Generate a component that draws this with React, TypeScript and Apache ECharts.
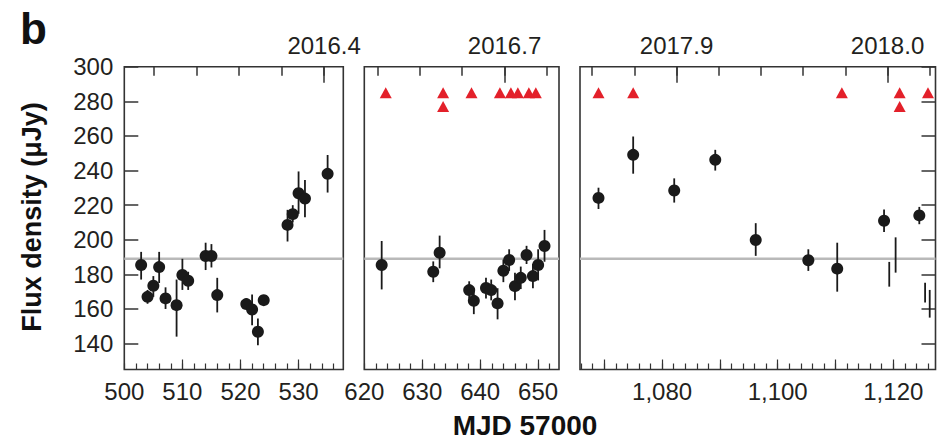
import React, { useEffect, useRef } from "react";
import * as echarts from "echarts";

const FONT = '"Liberation Sans", Arial, Helvetica, sans-serif';
const TEXT = "#231f20";
const AXIS = "#333333";
const DOT = "#1a1a1a";
const RED = "#e3202a";

// y scale
const yMin = 125;
const yMax = 300;
const yTickValues = [140, 160, 180, 200, 220, 240, 260, 280, 300];
const refLevel = 189;

// ---------- panel 1 (MJD 57500 - 57538) ----------
const p1Range = [500, 537.7];
const p1BottomLabels = [500, 510, 520, 530];
const p1BottomMajor = [510, 520, 530];
const p1TopYears = [2016.32, 2016.34, 2016.36, 2016.38, 2016.4];
const p1TopLabels = [2016.4];
const p1X = [502.9, 504.0, 505.0, 506.0, 507.1, 509.0, 510.0, 511.0, 514.0, 515.0, 516.0, 521.0, 522.0, 523.0, 524.0, 528.1, 529.0, 530.0, 531.1, 535.0];
const p1Y = [185.4, 167.0, 173.4, 184.2, 166.1, 162.2, 179.6, 176.3, 190.6, 190.6, 168.0, 162.8, 159.7, 146.8, 165.1, 208.6, 214.8, 226.9, 223.8, 238.1];
const p1Lo = [177, 163, 167, 175, 160, 144, 171, 171, 182.5, 184, 158, 160, 150.6, 139, 162, 199, 210, 215, 213, 227.3];
const p1Hi = [193, 171, 179, 193, 172.5, 177, 189, 181.5, 198.3, 197.5, 178, 166, 168.4, 154.5, 168, 217.3, 220, 239.5, 234.6, 249];
const p1TriX: number[] = [];
const p1TriY: number[] = [];

// ---------- panel 2 (MJD 57620 - 57654) ----------
const p2Range = [620, 653.6];
const p2BottomLabels = [620, 630, 640, 650];
const p2BottomMajor = [630, 640, 650];
const p2TopYears = [2016.64, 2016.66, 2016.68, 2016.7, 2016.72];
const p2TopLabels = [2016.7];
const p2X = [623.0, 631.9, 633.0, 638.1, 638.9, 641.0, 641.9, 643.0, 644.0, 645.0, 646.0, 647.0, 648.0, 649.1, 650.0, 651.1];
const p2Y = [185.4, 181.5, 192.5, 170.9, 164.7, 172.1, 170.9, 163.2, 182.1, 188.3, 173.2, 178.0, 191.2, 179.0, 185.4, 196.4];
const p2Lo = [171.3, 175.5, 183.5, 166, 157, 166, 165, 154, 175.5, 182, 165, 171.5, 186, 172, 176.5, 187.3];
const p2Hi = [199.3, 187.5, 202.4, 176, 172, 178, 177, 172, 188.5, 194.5, 181, 184.5, 196.5, 186, 194.5, 205.7];
const p2TriX = [623.7, 633.6, 633.6, 638.5, 643.4, 645.3, 646.5, 648.4, 649.6];
const p2TriY = [285, 285, 277, 285, 285, 285, 285, 285, 285];

// ---------- panel 3 (MJD 58066 - 58127) ----------
const p3Range = [1065.8, 1127.3];
const p3BottomLabels = [1080, 1100, 1120];
const p3BottomMajor = [1070, 1080, 1090, 1100, 1110, 1120];
const p3TopYears = [2017.86, 2017.88, 2017.9, 2017.92, 2017.94, 2017.96, 2017.98, 2018.0, 2018.02];
const p3TopLabels = [2017.9, 2018.0];
const p3X = [1069.0, 1075.0, 1082.1, 1089.2, 1096.2, 1105.3, 1110.3, 1118.4, 1124.5];
const p3Y = [224.2, 249.1, 228.5, 246.2, 199.9, 188.2, 183.3, 211.0, 214.1];
const p3Lo = [217.8, 238.2, 221.5, 240, 190.7, 182, 170, 204.5, 209];
const p3Hi = [230.1, 259.7, 235.5, 252, 209.6, 194.5, 198.3, 217.5, 219];
// error bars plotted without a marker
const p3BarX = [1119.3, 1120.4, 1125.5, 1126.3];
const p3BarLo = [172.9, 181, 163.8, 155];
const p3BarHi = [187.2, 201.4, 175.1, 171];
const p3TriX = [1069.0, 1075.0, 1111.1, 1121.1, 1121.1, 1126.0];
const p3TriY = [285, 285, 285, 285, 277, 285];

const yearStartMjd: Record<number, number> = { 2016: 388, 2017: 754, 2018: 1119 };
function yearToMjd(y: number): number {
  const yi = Math.floor(y + 1e-9);
  const days = yi % 4 === 0 ? 366 : 365;
  return yearStartMjd[yi] + (y - yi) * days;
}
function steps(from: number, to: number, step: number): number[] {
  const out: number[] = [];
  for (let v = from; v <= to + 1e-9; v += step) out.push(v);
  return out;
}

const panels = [
  {
    left: 124.3, width: 219,
    range: p1Range, bottomLabels: p1BottomLabels, bottomMajor: p1BottomMajor,
    topYears: p1TopYears, topLabels: p1TopLabels,
    x: p1X, y: p1Y, lo: p1Lo, hi: p1Hi, barX: [] as number[], barLo: [] as number[], barHi: [] as number[],
    triX: p1TriX, triY: p1TriY, yAxisSide: "left",
  },
  {
    left: 364.3, width: 194.7,
    range: p2Range, bottomLabels: p2BottomLabels, bottomMajor: p2BottomMajor,
    topYears: p2TopYears, topLabels: p2TopLabels,
    x: p2X, y: p2Y, lo: p2Lo, hi: p2Hi, barX: [] as number[], barLo: [] as number[], barHi: [] as number[],
    triX: p2TriX, triY: p2TriY, yAxisSide: "none",
  },
  {
    left: 580, width: 355.5,
    range: p3Range, bottomLabels: p3BottomLabels, bottomMajor: p3BottomMajor,
    topYears: p3TopYears, topLabels: p3TopLabels,
    x: p3X, y: p3Y, lo: p3Lo, hi: p3Hi, barX: p3BarX, barLo: p3BarLo, barHi: p3BarHi,
    triX: p3TriX, triY: p3TriY, yAxisSide: "right",
  },
];

const GRID_TOP = 66.8;
const GRID_HEIGHT = 302.7;

function buildOption() {
  const grid: any[] = [];
  const xAxis: any[] = [];
  const yAxis: any[] = [];
  const series: any[] = [];

  panels.forEach((p, g) => {
    grid.push({
      left: p.left, top: GRID_TOP, width: p.width, height: GRID_HEIGHT,
      show: true, borderColor: AXIS, borderWidth: 1.6, backgroundColor: "transparent",
    });
    const base = {
      type: "value", gridIndex: g, min: p.range[0], max: p.range[1],
      splitLine: { show: false }, axisLine: { show: false },
    };
    const minorBottom = steps(Math.ceil(p.range[0] / 2) * 2, p.range[1], 2);
    // bottom minor ticks
    xAxis.push({
      ...base, position: "bottom",
      axisTick: { show: true, inside: true, length: 6, customValues: minorBottom, lineStyle: { color: AXIS, width: 1.2 } },
      axisLabel: { show: false },
    });
    // bottom major ticks + labels
    xAxis.push({
      ...base, position: "bottom",
      axisTick: { show: true, inside: true, length: 10, customValues: p.bottomMajor, lineStyle: { color: AXIS, width: 1.2 } },
      axisLabel: {
        show: true, customValues: p.bottomLabels, margin: 10,
        color: TEXT, fontFamily: FONT, fontSize: 24,
        formatter: (v: number) => (v >= 1000 ? Math.round(v).toLocaleString("en-US") : String(Math.round(v))),
      },
    });
    const topAll = p.topYears.map(yearToMjd);
    const topLab = p.topLabels.map(yearToMjd);
    // top minor ticks
    xAxis.push({
      ...base, position: "top",
      axisTick: { show: true, inside: true, length: 9, customValues: topAll, lineStyle: { color: AXIS, width: 1.5 } },
      axisLabel: { show: false },
    });
    // top labelled ticks
    xAxis.push({
      ...base, position: "top",
      axisTick: { show: true, inside: true, length: 16, customValues: topLab, lineStyle: { color: AXIS, width: 1.5 } },
      axisLabel: {
        show: true, customValues: topLab, margin: 9,
        color: TEXT, fontFamily: FONT, fontSize: 24,
        formatter: (v: number) => {
          let best = p.topLabels[0];
          let bd = Infinity;
          p.topLabels.forEach((yr) => {
            const d = Math.abs(yearToMjd(yr) - v);
            if (d < bd) { bd = d; best = yr; }
          });
          return best.toFixed(1);
        },
      },
    });

    yAxis.push({
      type: "value", gridIndex: g, min: yMin, max: yMax,
      position: p.yAxisSide === "right" ? "right" : "left",
      splitLine: { show: false }, axisLine: { show: false },
      axisTick: {
        show: p.yAxisSide !== "none", inside: true, length: 14,
        customValues: yTickValues, lineStyle: { color: AXIS, width: 1.5 },
      },
      axisLabel: {
        show: p.yAxisSide === "left", customValues: yTickValues, margin: 11,
        color: TEXT, fontFamily: FONT, fontSize: 24,
      },
    });

    const xi = g * 4 + 1;
    // reference level across the panel
    series.push({
      type: "line", xAxisIndex: xi, yAxisIndex: g, silent: true,
      data: [[p.range[0], refLevel], [p.range[1], refLevel]],
      symbol: "none", lineStyle: { color: "#b9b9b9", width: 2.5 },
      z: 1, zlevel: 0,
    });
    // error bars
    const barData = p.x.map((x, i) => [x, p.lo[i], p.hi[i]]).concat(
      p.barX.map((x, i) => [x, p.barLo[i], p.barHi[i]])
    );
    series.push({
      type: "custom", xAxisIndex: xi, yAxisIndex: g, data: barData,
      encode: { x: 0, y: [1, 2] }, z: 3, silent: true,
      renderItem: (params: any, api: any) => {
        const a = api.coord([api.value(0), api.value(1)]);
        const b = api.coord([api.value(0), api.value(2)]);
        return {
          type: "line",
          shape: { x1: a[0], y1: a[1], x2: b[0], y2: b[1] },
          style: { stroke: DOT, lineWidth: 1.8 },
        };
      },
    });
    // points
    series.push({
      type: "scatter", xAxisIndex: xi, yAxisIndex: g,
      data: p.x.map((x, i) => [x, p.y[i]]),
      symbol: "circle", symbolSize: 12,
      itemStyle: { color: DOT, opacity: 1 }, z: 5, silent: true,
    });
    // red triangles
    series.push({
      type: "scatter", xAxisIndex: xi, yAxisIndex: g,
      data: p.triX.map((x, i) => [x, p.triY[i]]),
      symbol: "triangle", symbolSize: [12, 11],
      itemStyle: { color: RED, opacity: 1 }, z: 5, silent: true,
    });
  });

  return {
    animation: false,
    backgroundColor: "#ffffff",
    grid, xAxis, yAxis, series,
    graphic: [
      {
        type: "text", left: 20, top: 6,
        style: { text: "b", fontFamily: FONT, fontWeight: "bold", fontSize: 44, fill: "#111" },
      },
      {
        type: "text", x: 32, y: 217, rotation: Math.PI / 2,
        style: {
          text: "Flux density (μJy)", fontFamily: FONT, fontWeight: "bold", fontSize: 27,
          fill: "#111", align: "center", verticalAlign: "middle",
        },
      },
      {
        type: "text", x: 525, y: 425,
        style: {
          text: "MJD 57000", fontFamily: FONT, fontWeight: "bold", fontSize: 28,
          fill: "#111", align: "center", verticalAlign: "middle",
        },
      },
    ],
  };
}

export default function App() {
  const ref = useRef<HTMLDivElement>(null);
  useEffect(() => {
    if (!ref.current) return;
    const chart = echarts.init(ref.current, null, { renderer: "svg" });
    chart.setOption(buildOption() as any);
    return () => chart.dispose();
  }, []);
  return (
    <div
      ref={ref}
      style={{ position: "fixed", left: 0, top: 0, width: 940, height: 443, background: "#fff" }}
    />
  );
}
